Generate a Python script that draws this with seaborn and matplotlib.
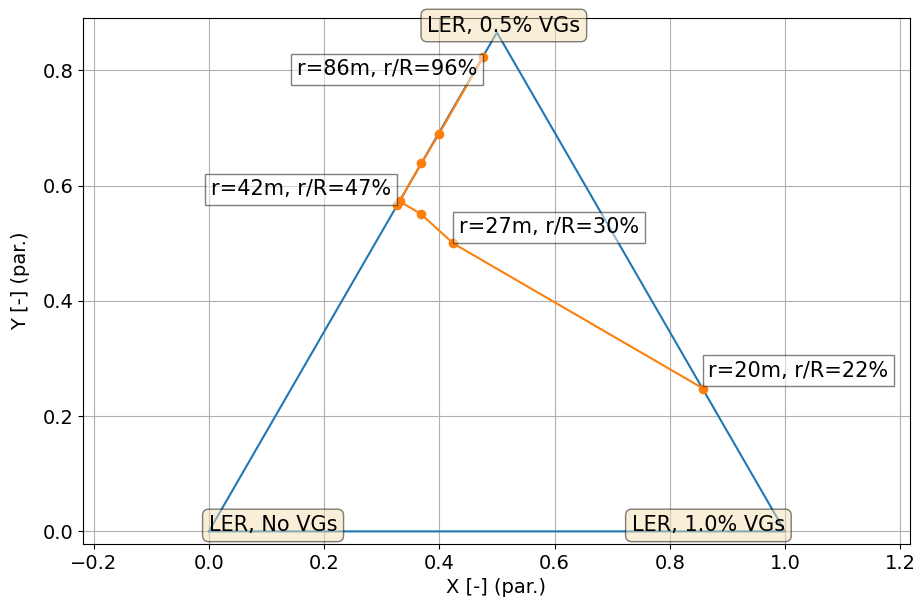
import matplotlib
matplotlib.use("Agg")
import matplotlib.pyplot as plt
import seaborn as sns
import pandas as pd
import numpy as np

# Triangle vertices (parametric space)
tri_x = [0.0, 0.5, 1.0, 0.0]
tri_y = [0.0, 0.866, 0.0, 0.0]
vertex_labels = ["LER, No VGs", "LER, 0.5% VGs", "LER, 1.0% VGs"]

# Orange path (blade span positions)
path_x = [0.858, 0.424, 0.368, 0.331, 0.327, 0.369, 0.399, 0.476]
path_y = [0.248, 0.500, 0.551, 0.573, 0.566, 0.639, 0.689, 0.823]

# Annotated points
lab_idx = [0, 1, 4, 7]
lab_text = ["r=20m, r/R=22%", "r=27m, r/R=30%", "r=42m, r/R=47%", "r=86m, r/R=96%"]

plt.rcParams['font.size'] = 14
fig = plt.figure(figsize=(9.16, 6.02), dpi=100)
ax = fig.add_axes([83/916, 1-545/602, (910-83)/916, (545-17)/602])

tri_df = pd.DataFrame({"x": tri_x, "y": tri_y})
path_df = pd.DataFrame({"x": path_x, "y": path_y})

sns.lineplot(data=tri_df, x="x", y="y", sort=False, estimator=None,
             color="#1f77b4", linewidth=1.5, ax=ax)
sns.lineplot(data=path_df, x="x", y="y", sort=False, estimator=None,
             color="#ff7f0e", linewidth=1.5, marker="o", markersize=7,
             markeredgewidth=0, ax=ax)

ax.set_xlim(-0.2184, 1.217)
ax.set_ylim(-0.0218, 0.891)
ax.set_aspect("equal", adjustable="box")
ax.grid(True, color="#b0b0b0", linewidth=0.8)
ax.set_axisbelow(True)
ax.set_xticks([-0.2, 0.0, 0.2, 0.4, 0.6, 0.8, 1.0, 1.2])
ax.set_yticks([0.0, 0.2, 0.4, 0.6, 0.8])
ax.set_xlabel("X [-] (par.)", fontsize=14)
ax.set_ylabel("Y [-] (par.)", fontsize=14, labelpad=9)
ax.tick_params(labelsize=14)

FS = 15
wheat = dict(boxstyle="round", facecolor="wheat", alpha=0.5)
vpos = [((0, 4.3), "left"), ((5.0, 5.0), "center"), ((0, 4.3), "right")]
for k, ((off, ha), lab) in enumerate(zip(vpos, vertex_labels)):
    ax.annotate(lab, xy=(tri_x[k], tri_y[k]), xytext=off,
                textcoords="offset points", ha=ha, va="center",
                fontsize=FS, bbox=wheat, zorder=5)

white = dict(facecolor="white", alpha=0.5)
offsets = [((3.6, 5.5), "left", "bottom"),
           ((4.3, 4.3), "left", "bottom"),
           ((-4.5, 4.3), "right", "bottom"),
           ((-4.3, -1.4), "right", "top")]
for i, t, (off, ha, va) in zip(lab_idx, lab_text, offsets):
    ax.annotate(t, xy=(path_x[i], path_y[i]), xytext=off,
                textcoords="offset points", ha=ha, va=va, fontsize=FS,
                bbox=white, zorder=6)

fig.savefig("out.png", dpi=100)
